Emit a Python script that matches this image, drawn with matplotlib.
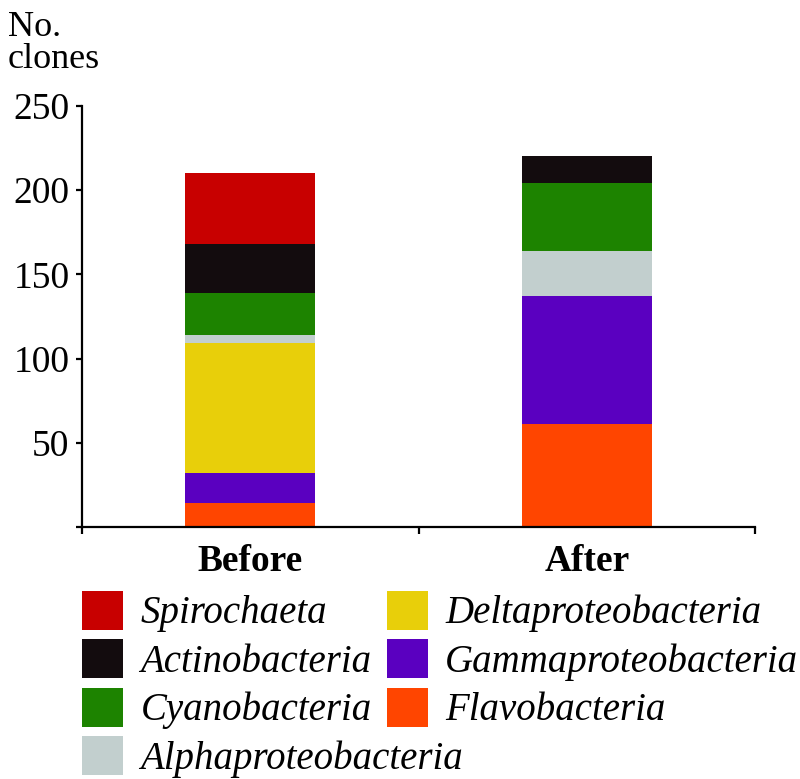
import matplotlib.pyplot as plt
from matplotlib.patches import Patch

# Data (clone counts per group)
samples = ['Before', 'After']
groups = ['Flavobacteria', 'Gammaproteobacteria', 'Deltaproteobacteria',
          'Alphaproteobacteria', 'Cyanobacteria', 'Actinobacteria', 'Spirochaeta']
flavo = [14, 61]
gamma = [18, 76]
delta = [77, 0]
alpha = [5, 27]
cyano = [25, 40]
actino = [29, 16]
spiro = [42, 0]
yticks = [0, 50, 100, 150, 200, 250]
ytick_labels = ['', '50', '100', '150', '200', '250']

colors = {
    'Spirochaeta': '#c80000',
    'Actinobacteria': '#130c0e',
    'Cyanobacteria': '#1d8300',
    'Alphaproteobacteria': '#c2cfce',
    'Deltaproteobacteria': '#e8cf0a',
    'Gammaproteobacteria': '#5a00c0',
    'Flavobacteria': '#ff4500',
}
series = [flavo, gamma, delta, alpha, cyano, actino, spiro]

serif = 'Liberation Serif'
fig = plt.figure(figsize=(8, 7.79), dpi=100)
ax = fig.add_axes([0.1025, 0.3235, 0.8415, 0.5405])

x = list(range(len(samples)))
bottom = [0, 0]
for name, vals in zip(groups, series):
    ax.bar(x, vals, bottom=bottom, width=0.386, color=colors[name],
           linewidth=0)
    bottom = [b + v for b, v in zip(bottom, vals)]

ax.set_xlim(-0.5, 1.5)
ax.set_ylim(0, 250)
ax.spines['top'].set_visible(False)
ax.spines['right'].set_visible(False)
for s in ['left', 'bottom']:
    ax.spines[s].set_linewidth(1.6)

ax.set_yticks(yticks)
ax.set_yticklabels(ytick_labels, fontfamily=serif, fontsize=27)
ax.tick_params(axis='y', direction='out', length=4, width=1.6, pad=5)

ax.set_xticks(x)
ax.set_xticklabels(samples, fontfamily=serif, fontsize=27, fontweight='bold')
ax.tick_params(axis='x', which='major', length=0, pad=12)
ax.set_xticks([-0.5, 0.5, 1.5], minor=True)
ax.tick_params(axis='x', which='minor', direction='out', length=5, width=1.6)

fig.text(0.01, 1 - 36 / 779, 'No.', fontfamily=serif, fontsize=26)
fig.text(0.01, 1 - 68 / 779, 'clones', fontfamily=serif, fontsize=26)

# Legend in two columns
col1 = ['Spirochaeta', 'Actinobacteria', 'Cyanobacteria', 'Alphaproteobacteria']
col2 = ['Deltaproteobacteria', 'Gammaproteobacteria', 'Flavobacteria']
legend_font = {'family': serif, 'style': 'italic', 'size': 28}
for names, xpos in [(col1, 82), (col2, 387)]:
    handles = [Patch(facecolor=colors[n], linewidth=0, label=n) for n in names]
    leg = fig.legend(handles=handles, loc='upper left',
                     bbox_to_anchor=(xpos / 800, 1 - 591 / 779),
                     frameon=False, prop=legend_font, borderpad=0,
                     borderaxespad=0, handlelength=1.05, handleheight=1.15,
                     handletextpad=0.45, labelspacing=0.18)

fig.savefig('out.png', dpi=100)
